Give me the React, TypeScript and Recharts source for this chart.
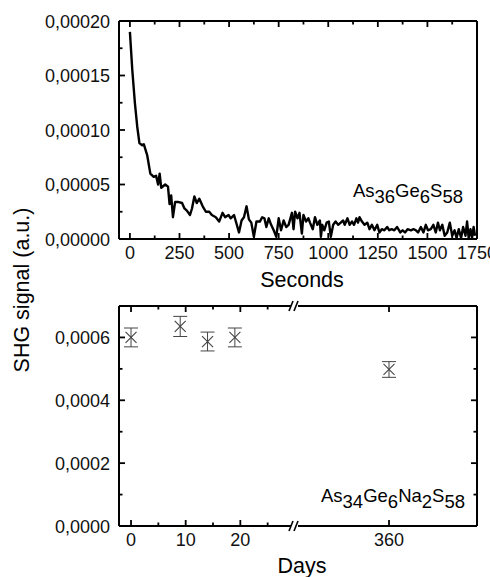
import React from 'react';
import { LineChart, Line, XAxis, YAxis, ScatterChart, Scatter, ErrorBar } from 'recharts';

// ---------- Top panel: SHG decay vs time ----------
const seconds = [
  0, 12, 25, 37, 48, 62, 70, 87, 103, 120, 132, 142, 150, 158, 178, 192, 200, 208, 217, 228,
  242, 263, 275, 287, 303, 313, 325, 337, 350, 367, 383, 400, 413, 433, 450, 467, 480, 497, 508, 525,
  550, 563, 575, 588, 600, 612, 625, 638, 655, 667, 678, 688, 700, 712, 725, 738, 750, 762, 775, 788,
  800, 817, 825, 833, 845, 855, 867, 875, 888, 900, 908, 922, 933, 945, 958, 963, 970, 980, 992, 1003,
  1013, 1025, 1037, 1050, 1063, 1075, 1083, 1097, 1108, 1120, 1130, 1142, 1150, 1158, 1170, 1183, 1197, 1208, 1220, 1233,
  1247, 1258, 1270, 1283, 1297, 1308, 1320, 1333, 1347, 1363, 1375, 1387, 1400, 1417, 1430, 1442, 1453, 1467, 1480, 1492,
  1503, 1517, 1530, 1542, 1553, 1563, 1575, 1587, 1600, 1613, 1625, 1637, 1647, 1658, 1670, 1680, 1692, 1700, 1708, 1717,
  1725, 1733, 1740,
];
const signal = [
  19.0e-5, 15.5e-5, 12.5e-5, 10.3e-5, 8.8e-5, 8.6e-5, 8.7e-5, 7.7e-5, 6.0e-5, 5.7e-5, 5.8e-5, 5.0e-5, 6.0e-5, 4.7e-5, 5.0e-5, 4.8e-5, 3.2e-5, 4.0e-5, 2.0e-5, 3.4e-5,
  3.4e-5, 3.3e-5, 2.8e-5, 2.6e-5, 2.2e-5, 2.8e-5, 3.9e-5, 3.3e-5, 3.7e-5, 3.0e-5, 2.5e-5, 2.5e-5, 2.2e-5, 2.0e-5, 1.6e-5, 2.4e-5, 2.0e-5, 2.2e-5, 1.9e-5, 2.2e-5,
  0.6e-5, 1.7e-5, 2.0e-5, 3.0e-5, 1.8e-5, 1.5e-5, 0.2e-5, 1.6e-5, 1.6e-5, 2.0e-5, 1.9e-5, 1.1e-5, 1.9e-5, 1.3e-5, 0.8e-5, 0.2e-5, 1.9e-5, 0.8e-5, 1.7e-5, 1.1e-5,
  1.3e-5, 2.4e-5, 0.9e-5, 2.5e-5, 1.9e-5, 2.4e-5, 0.5e-5, 2.2e-5, 1.6e-5, 1.9e-5, 1.5e-5, 0.9e-5, 2.0e-5, 1.3e-5, 1.7e-5, 0.2e-5, 1.3e-5, 0.8e-5, 1.5e-5, 1.6e-5,
  0.2e-5, 1.3e-5, 1.6e-5, 1.3e-5, 1.5e-5, 1.7e-5, 1.3e-5, 1.9e-5, 1.3e-5, 1.6e-5, 1.3e-5, 1.9e-5, 1.5e-5, 2.0e-5, 1.6e-5, 1.3e-5, 1.5e-5, 0.9e-5, 1.3e-5, 0.8e-5,
  1.3e-5, 0.6e-5, 0.9e-5, 0.8e-5, 1.1e-5, 0.8e-5, 0.9e-5, 0.8e-5, 1.1e-5, 0.6e-5, 0.8e-5, 0.6e-5, 0.9e-5, 0.8e-5, 0.9e-5, 0.8e-5, 0.6e-5, 1.1e-5, 0.6e-5, 1.3e-5,
  0.8e-5, 0.9e-5, 1.3e-5, 0.6e-5, 1.5e-5, 0.8e-5, 1.3e-5, 0.3e-5, 0.6e-5, 1.5e-5, 0.3e-5, 0.8e-5, 0.1e-5, 0.9e-5, 0.1e-5, 1.1e-5, 0.3e-5, 1.6e-5, 0.1e-5, 0.9e-5,
  0.1e-5, 1.1e-5, 0.3e-5,
];
const secTicks = [0, 125, 250, 375, 500, 625, 750, 875, 1000, 1125, 1250, 1375, 1500, 1625, 1750];
const secMajor = [0, 250, 500, 750, 1000, 1250, 1500, 1750];
const topYTicks = [0, 0.000025, 0.00005, 0.000075, 0.0001, 0.000125, 0.00015, 0.000175, 0.0002];
const topYMajor = [0, 0.00005, 0.0001, 0.00015, 0.0002];

// ---------- Bottom panel: SHG vs days ----------
const days = [0, 9, 14, 19, 360];
const shg = [6.0e-4, 6.35e-4, 5.87e-4, 6.0e-4, 4.98e-4];
const shgErr = [3.0e-5, 3.2e-5, 3.0e-5, 3.0e-5, 2.5e-5];
const dayTicks = [0, 5, 10, 15, 20, 25, 360];
const dayLabels = [0, 10, 20, 360];
const botYTicks = [0, 0.0001, 0.0002, 0.0003, 0.0004, 0.0005, 0.0006];
const botYMajor = [0, 0.0002, 0.0004, 0.0006];

// broken axis: days <= BREAK_DAY plotted directly, later days shifted left
const BREAK_DAY = 30;
const RESUME_DAY = 342.8;
const toAxis = (d: number) => (d <= BREAK_DAY ? d : d - RESUME_DAY + BREAK_DAY);

const curve = seconds.map((t, i) => ({ t, v: signal[i] }));
const points = days.map((d, i) => ({ u: toAxis(d), v: shg[i], err: shgErr[i] }));
const dayTickU = [...dayTicks.map(toAxis), BREAK_DAY].sort((a, b) => a - b);

const FONT = '"Liberation Sans", Arial, Helvetica, sans-serif';
const TICK_FONT = 18;

type Orient = 'bottom' | 'top' | 'left' | 'right';

const near = (a: number, b: number) => Math.abs(a - b) <= 1e-12 + 1e-6 * Math.abs(b);

const makeTick =
  (orient: Orient, majors: number[], label?: (v: number) => string, breakValue?: number) =>
  (props: any) => {
    const { x, y, payload } = props;
    const v: number = payload.value;
    if (breakValue !== undefined && near(v, breakValue)) {
      return (
        <g>
          <rect x={x - 4} y={y - 2} width={7} height={4} fill="#fff" />
          <line x1={x - 6} y1={y + 5} x2={x - 2} y2={y - 5} stroke="#000" strokeWidth={1.6} />
          <line x1={x - 1} y1={y + 5} x2={x + 3} y2={y - 5} stroke="#000" strokeWidth={1.6} />
        </g>
      );
    }
    const major = majors.some((m) => near(v, m));
    const len = major ? 6 : 3.5;
    const txt = major && label ? label(v) : '';
    const common = { stroke: '#000', strokeWidth: 1.8 };
    if (orient === 'bottom') {
      return (
        <g>
          <line x1={x} y1={y} x2={x} y2={y - len} {...common} />
          {txt && (
            <text x={x} y={y + 20} textAnchor="middle" fontSize={TICK_FONT} fontFamily={FONT} fill="#111">
              {txt}
            </text>
          )}
        </g>
      );
    }
    if (orient === 'top') {
      return <line x1={x} y1={y} x2={x} y2={y + len} {...common} />;
    }
    if (orient === 'left') {
      return (
        <g>
          <line x1={x} y1={y} x2={x + len} y2={y} {...common} />
          {txt && (
            <text x={x - 9} y={y + 6.5} textAnchor="end" fontSize={TICK_FONT} fontFamily={FONT} fill="#111">
              {txt}
            </text>
          )}
        </g>
      );
    }
    return <line x1={x} y1={y} x2={x - len} y2={y} {...common} />;
  };

const fmtTop = (v: number) => v.toFixed(5).replace('.', ',');
const fmtBot = (v: number) => v.toFixed(4).replace('.', ',');
const fmtSec = (v: number) => String(v);
const fmtDay = (u: number) => {
  const d = dayLabels.find((dd) => near(toAxis(dd), u));
  return d === undefined ? '' : String(d);
};

const axisLine = { stroke: '#000', strokeWidth: 2 };

const XMark = (props: any) => {
  const { cx, cy } = props;
  if (cx == null || cy == null) return <g />;
  const s = 5.5;
  return (
    <g>
      <line x1={cx - s} y1={cy - s} x2={cx + s} y2={cy + s} stroke="#444" strokeWidth={1.1} />
      <line x1={cx - s} y1={cy + s} x2={cx + s} y2={cy - s} stroke="#444" strokeWidth={1.1} />
    </g>
  );
};
const NoMark = () => <g />;

const commonAxis = { tickSize: 0, tickMargin: 0, tickLine: false, interval: 0 as const, axisLine };

export default function App() {
  return (
    <div style={{ position: 'absolute', left: 0, top: 0, width: 490, height: 577, background: '#fff', overflow: 'hidden' }}>
      <div style={{ position: 'absolute', left: 0, top: 0 }}>
        <LineChart width={490} height={290} data={curve} margin={{ top: 1, right: 1, bottom: 0, left: 0 }}>
          <XAxis
            xAxisId="b"
            dataKey="t"
            type="number"
            domain={[-55, 1750]}
            allowDataOverflow
            ticks={secTicks}
            height={51}
            tick={makeTick('bottom', secMajor, fmtSec)}
            {...commonAxis}
          />
          <XAxis
            xAxisId="t"
            orientation="top"
            dataKey="t"
            type="number"
            domain={[-55, 1750]}
            allowDataOverflow
            ticks={secTicks}
            height={20}
            tick={makeTick('top', secMajor)}
            {...commonAxis}
          />
          <YAxis
            yAxisId="l"
            type="number"
            domain={[0, 0.0002]}
            allowDataOverflow
            ticks={topYTicks}
            width={119}
            tick={makeTick('left', topYMajor, fmtTop)}
            {...commonAxis}
          />
          <YAxis
            yAxisId="r"
            orientation="right"
            type="number"
            domain={[0, 0.0002]}
            allowDataOverflow
            width={12}
            tick={false}
            tickLine={false}
            axisLine={axisLine}
          />
          {/* invisible series so the mirrored border axes get a scale */}
          <Line
            xAxisId="t"
            yAxisId="r"
            dataKey="v"
            type="linear"
            stroke="none"
            dot={false}
            activeDot={false}
            legendType="none"
            isAnimationActive={false}
          />
          <Line
            xAxisId="b"
            yAxisId="l"
            dataKey="v"
            type="linear"
            stroke="#000"
            strokeWidth={2.4}
            strokeLinejoin="round"
            dot={false}
            isAnimationActive={false}
          />
        </LineChart>
      </div>
      <div style={{ position: 'absolute', left: 0, top: 290 }}>
        <ScatterChart width={490} height={287} margin={{ top: 1, right: 1, bottom: 0, left: 0 }}>
          <XAxis
            xAxisId="b"
            dataKey="u"
            type="number"
            domain={[-2.2, 63.3]}
            allowDataOverflow
            ticks={dayTickU}
            height={51}
            tick={makeTick('bottom', dayLabels.map(toAxis), fmtDay, BREAK_DAY)}
            {...commonAxis}
          />
          <XAxis
            xAxisId="t"
            orientation="top"
            dataKey="u"
            type="number"
            domain={[-2.2, 63.3]}
            allowDataOverflow
            ticks={dayTickU}
            height={15}
            tick={makeTick('top', dayLabels.map(toAxis), undefined, BREAK_DAY)}
            {...commonAxis}
          />
          <YAxis
            yAxisId="l"
            dataKey="v"
            type="number"
            domain={[0, 0.0007]}
            allowDataOverflow
            ticks={botYTicks}
            width={119}
            tick={makeTick('left', botYMajor, fmtBot)}
            {...commonAxis}
          />
          <YAxis
            yAxisId="r"
            orientation="right"
            dataKey="v"
            type="number"
            domain={[0, 0.0007]}
            allowDataOverflow
            ticks={botYTicks}
            width={12}
            tick={makeTick('right', botYMajor)}
            {...commonAxis}
          />
          {/* invisible series so the mirrored border axes get a scale */}
          <Scatter
            xAxisId="t"
            yAxisId="r"
            data={points}
            dataKey="v"
            shape={NoMark}
            legendType="none"
            isAnimationActive={false}
          />
          <Scatter xAxisId="b" yAxisId="l" data={points} dataKey="v" shape={XMark} isAnimationActive={false}>
            <ErrorBar dataKey="err" direction="y" width={7} stroke="#444" strokeWidth={1} isAnimationActive={false} />
          </Scatter>
        </ScatterChart>
      </div>
      <svg
        width={490}
        height={577}
        style={{ position: 'absolute', left: 0, top: 0, pointerEvents: 'none' }}
      >
        <text x={302} y={287} textAnchor="middle" fontSize={21.5} fontFamily={FONT} fill="#000">
          Seconds
        </text>
        <text x={302} y={573} textAnchor="middle" fontSize={21.5} fontFamily={FONT} fill="#000">
          Days
        </text>
        <text
          x={29}
          y={290}
          transform="rotate(-90 29 290)"
          textAnchor="middle"
          fontSize={21.5}
          fontFamily={FONT}
          fill="#000"
        >
          SHG signal (a.u.)
        </text>
        <text x={463} y={197} textAnchor="end" fontSize={18.5} fontFamily={FONT} fill="#000">
          As<tspan dy={5.5}>36</tspan>
          <tspan dy={-5.5}>Ge</tspan>
          <tspan dy={5.5}>6</tspan>
          <tspan dy={-5.5}>S</tspan>
          <tspan dy={5.5}>58</tspan>
        </text>
        <text x={465} y={502} textAnchor="end" fontSize={18.5} fontFamily={FONT} fill="#000">
          As<tspan dy={5.5}>34</tspan>
          <tspan dy={-5.5}>Ge</tspan>
          <tspan dy={5.5}>6</tspan>
          <tspan dy={-5.5}>Na</tspan>
          <tspan dy={5.5}>2</tspan>
          <tspan dy={-5.5}>S</tspan>
          <tspan dy={5.5}>58</tspan>
        </text>
      </svg>
    </div>
  );
}
